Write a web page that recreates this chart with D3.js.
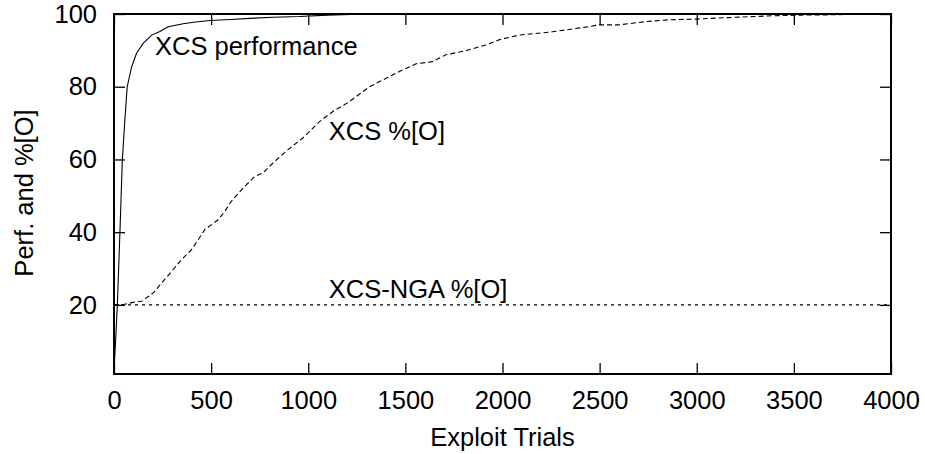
<!DOCTYPE html>
<html>
<head>
<meta charset="utf-8">
<script src="https://cdn.jsdelivr.net/npm/d3@7"></script>
<style>
  body { margin: 0; background: #fff; }
  svg text { font-family: "Liberation Sans", Arial, sans-serif; fill: #000; }
</style>
</head>
<body>
<svg id="chart"></svg>
<script>
// data
const perfTrials = [0, 8, 17, 31, 43, 56, 68, 91, 116, 151, 194, 236, 279, 356, 420, 493, 600, 699, 820, 955, 1100, 1300, 4000];
const perfValues = [2, 10, 19.6, 40.7, 59.9, 70.9, 80, 85.5, 89.2, 92, 94.2, 95.2, 96.5, 97.3, 97.8, 98.2, 98.5, 98.8, 99.1, 99.3, 99.7, 100, 100];

const xcsTrials = [0, 48, 99, 142, 202, 245, 296, 347, 399, 433, 467, 536, 570, 604, 664, 724, 767, 818, 896, 972, 1058, 1127, 1212, 1315, 1401, 1469, 1555, 1640, 1709, 1811, 1914, 1983, 2085, 2257, 2428, 2496, 2599, 2736, 2856, 2993, 3198, 3386, 3540, 3737, 3800, 4000];
const xcsValues = [20.1, 20.1, 20.7, 21, 23.3, 26, 29.2, 32.4, 35.2, 37.9, 40.7, 43.4, 45.7, 48.5, 52.1, 55.3, 56.3, 59, 62.7, 65.9, 70.4, 73.2, 75.9, 80, 82.3, 84.2, 86.3, 86.9, 88.8, 89.9, 91.5, 92.9, 94.2, 95.1, 96.4, 97, 97, 97.9, 98.4, 98.6, 99.1, 99.5, 99.7, 99.8, 100, 100];

const ngaTrials = [0, 4000];
const ngaValues = [20, 20];

const xTicks = [0, 500, 1000, 1500, 2000, 2500, 3000, 3500, 4000];
const yTicks = [20, 40, 60, 80, 100];

const svgWidth = 925, svgHeight = 454;
const margin = { top: 14, right: 34, bottom: 80, left: 114 };
const width = svgWidth - margin.left - margin.right;
const height = svgHeight - margin.top - margin.bottom;
const fontSize = 25.5;

const svg = d3.select("#chart")
  .attr("width", svgWidth)
  .attr("height", svgHeight);

const g = svg.append("g")
  .attr("transform", `translate(${margin.left},${margin.top})`);

const x = d3.scaleLinear().domain([0, 4000]).range([0, width]);
const y = d3.scaleLinear().domain([1, 100]).range([height, 0]);

const tick = 11;

// bottom + top ticks (inward)
g.append("g")
  .attr("transform", `translate(0,${height})`)
  .call(d3.axisBottom(x).tickValues(xTicks).tickFormat(d3.format("d")).tickSizeInner(-tick).tickSizeOuter(0).tickPadding(17))
  .call(a => a.select(".domain").remove())
  .call(a => a.selectAll(".tick text").attr("font-size", fontSize))
  .call(a => a.selectAll(".tick line").attr("stroke-width", 1.3));

g.append("g")
  .call(d3.axisTop(x).tickValues(xTicks).tickSizeInner(-tick).tickSizeOuter(0).tickFormat(""))
  .call(a => a.select(".domain").remove())
  .call(a => a.selectAll(".tick line").attr("stroke-width", 1.3));

g.append("g")
  .call(d3.axisLeft(y).tickValues(yTicks).tickSizeInner(-tick).tickSizeOuter(0).tickPadding(17))
  .call(a => a.select(".domain").remove())
  .call(a => a.selectAll(".tick text").attr("font-size", fontSize))
  .call(a => a.selectAll(".tick line").attr("stroke-width", 1.3));

g.append("g")
  .attr("transform", `translate(${width},0)`)
  .call(d3.axisRight(y).tickValues(yTicks).tickSizeInner(-tick).tickSizeOuter(0).tickFormat(""))
  .call(a => a.select(".domain").remove())
  .call(a => a.selectAll(".tick line").attr("stroke-width", 1.3));

const line = d3.line()
  .x(d => x(d[0]))
  .y(d => y(d[1]));

const series = [
  { t: perfTrials, v: perfValues, dash: null },
  { t: xcsTrials, v: xcsValues, dash: "5,3" },
  { t: ngaTrials, v: ngaValues, dash: "3,4" }
];

series.forEach(s => {
  g.append("path")
    .datum(d3.zip(s.t, s.v))
    .attr("fill", "none")
    .attr("stroke", "#000")
    .attr("stroke-width", 1.1)
    .attr("stroke-dasharray", s.dash)
    .attr("d", line);
});

// frame
g.append("rect")
  .attr("width", width)
  .attr("height", height)
  .attr("fill", "none")
  .attr("stroke", "#000")
  .attr("stroke-width", 2);

// curve labels
g.append("text").attr("x", x(211)).attr("y", y(88.6)).attr("font-size", fontSize).text("XCS performance");
g.append("text").attr("x", x(1106)).attr("y", y(65.4)).attr("font-size", fontSize).text("XCS %[O]");
g.append("text").attr("x", x(1106)).attr("y", y(21.9)).attr("font-size", fontSize).text("XCS-NGA %[O]");

// axis titles
svg.append("text")
  .attr("x", margin.left + width / 2)
  .attr("y", 446)
  .attr("text-anchor", "middle")
  .attr("font-size", fontSize)
  .text("Exploit Trials");

svg.append("text")
  .attr("transform", "translate(33,193) rotate(-90)")
  .attr("text-anchor", "middle")
  .attr("font-size", fontSize)
  .text("Perf. and %[O]");
</script>
</body>
</html>
